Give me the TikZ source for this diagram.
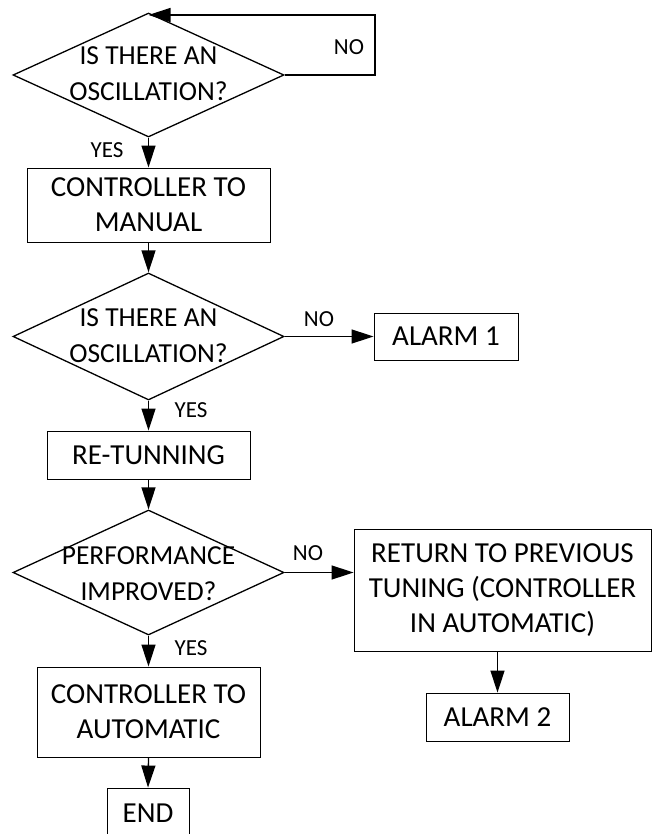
\documentclass[tikz,border=0pt]{standalone}
\usepackage{fontspec}
\setmainfont{Carlito}
\usetikzlibrary{shapes.geometric,arrows.meta}

% two centred lines that do not widen the diamond
\newcommand{\twolines}[2]{\makebox[0pt]{\smash{\raisebox{-0.25em}{\begin{tabular}{@{}c@{}}#1\\#2\end{tabular}}}}}

\begin{document}
\begin{tikzpicture}[x=1pt,y=-1pt,
    box/.style={draw,line width=0.9pt,align=center,inner sep=0pt,font=\fontsize{29}{35}\selectfont},
    decision/.style={draw,diamond,line width=1.3pt,inner sep=0pt,minimum width=271pt,font=\fontsize{27.5}{36}\selectfont},
    arr/.style={line width=1.3pt,-{Triangle[length=22pt,width=14pt]}},
    lbl/.style={font=\fontsize{23}{26}\selectfont}]

    \useasboundingbox (0,0) rectangle (652,834);

    % main column
    \node[decision,minimum height=124pt] (osc1) at (148.5,75)
        {\twolines{IS THERE AN}{OSCILLATION?}};
    \node[box,minimum width=243pt,minimum height=74pt] (manual) at (148.5,205)
        {CONTROLLER TO\\MANUAL};
    \node[decision,minimum height=127pt] (osc2) at (148.5,336.5)
        {\twolines{IS THERE AN}{OSCILLATION?}};
    \node[box,minimum width=203pt,minimum height=48pt] (retune) at (148.5,455)
        {RE-TUNNING};
    \node[decision,minimum height=125pt] (perf) at (148.5,572.5)
        {\raisebox{-4pt}{\twolines{PERFORMANCE}{IMPROVED?}}};
    \node[box,minimum width=223pt,minimum height=90pt] (auto) at (148.5,712)
        {CONTROLLER TO\\AUTOMATIC};
    \node[box,minimum width=82pt,minimum height=50pt] (finish) at (148,813)
        {END};

    % right column
    \node[box,minimum width=144pt,minimum height=47pt] (alarm1) at (446,336.5)
        {ALARM 1};
    \node[box,minimum width=297pt,minimum height=122pt] (goback) at (502.5,590)
        {RETURN TO PREVIOUS\\TUNING (CONTROLLER\\IN AUTOMATIC)};
    \node[box,minimum width=143pt,minimum height=48pt] (alarm2) at (497.5,717)
        {ALARM 2};

    % connectors
    \coordinate (loop) at (375,15);
    \draw[arr] (osc1.east) -| (loop) -- (loop -| osc1.north);
    \draw[arr] (osc1.south) -- (manual.north);
    \draw[arr] (manual.south) -- (osc2.north);
    \draw[arr] (osc2.east) -- (alarm1.west);
    \draw[arr] (osc2.south) -- (retune.north);
    \draw[arr] (retune.south) -- (perf.north);
    \draw[arr] (perf.east) -- (perf.east -| goback.west);
    \draw[arr] (perf.south) -- (auto.north);
    \draw[arr] (auto.south) -- (finish.north);
    \draw[arr] (alarm2.north |- goback.south) -- (alarm2.north);

    % yes / no
    \node[lbl] (no1) at (349,47) {NO};
    \node[lbl] (yes1) at (107,150) {YES};
    \node[lbl] (no2) at (319,319) {NO};
    \node[lbl] (yes2) at (191,410) {YES};
    \node[lbl] (no3) at (308,553) {NO};
    \node[lbl] (yes3) at (191,648) {YES};
\end{tikzpicture}
\end{document}
